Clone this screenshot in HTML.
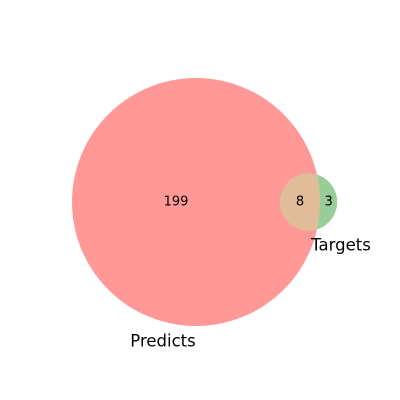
<!DOCTYPE html>
<html><head><meta charset="utf-8"><style>
html,body{margin:0;padding:0;background:#fff;}
svg{display:block;font-family:"DejaVu Sans","Liberation Sans",sans-serif;}
</style></head><body>
<svg id="chart" width="400" height="400" viewBox="0 0 400 400">
<defs><clipPath id="clipBig"><circle id="clipc" cx="0" cy="0" r="0"/></clipPath></defs>
<rect width="400" height="400" fill="#fff"/>
</svg>
<script>
const setNames = ["Predicts", "Targets"];
const regionValues = [199, 8, 3]; // only-A, both, only-B
const NS = "http://www.w3.org/2000/svg";
const svg = document.getElementById("chart");
const areaA = regionValues[0] + regionValues[1];
const areaB = regionValues[2] + regionValues[1];
const k = 124 / Math.sqrt(areaA);
const rA = k * Math.sqrt(areaA), rB = k * Math.sqrt(areaB);
function overlap(d, r1, r2) {
  if (d >= r1 + r2) return 0;
  if (d <= Math.abs(r1 - r2)) return Math.PI * Math.min(r1, r2) ** 2;
  const a = r1*r1*Math.acos((d*d + r1*r1 - r2*r2)/(2*d*r1));
  const b = r2*r2*Math.acos((d*d + r2*r2 - r1*r1)/(2*d*r2));
  const c = 0.5*Math.sqrt((-d+r1+r2)*(d+r1-r2)*(d-r1+r2)*(d+r1+r2));
  return a + b - c;
}
const target = regionValues[1] * Math.PI * k * k;
let lo = Math.abs(rA - rB), hi = rA + rB;
for (let i = 0; i < 60; i++) { const m = (lo + hi) / 2; if (overlap(m, rA, rB) > target) lo = m; else hi = m; }
const d = (lo + hi) / 2;
const cy = 202, cxA = 196, cxB = cxA + d;
function circ(cx, r, fill, name) {
  const c = document.createElementNS(NS, "circle");
  c.setAttribute("cx", cx); c.setAttribute("cy", cy); c.setAttribute("r", r); c.setAttribute("fill", fill);
  
  
  svg.appendChild(c); return c;
}
circ(cxA, rA, "#ff9896", "circle-predicts");
circ(cxB, rB, "#98cc98", "circle-targets");
const cc = document.getElementById("clipc");
cc.setAttribute("cx", cxA); cc.setAttribute("cy", cy); cc.setAttribute("r", rA);
const ov = circ(cxB, rB, "#e0bd98", "overlap-region");
ov.setAttribute("clip-path", "url(#clipBig)");
function txt(x, y, s, size, name) {
  const t = document.createElementNS(NS, "text");
  t.setAttribute("x", x); t.setAttribute("y", y); t.setAttribute("font-size", size);
  t.setAttribute("text-anchor", "middle"); t.setAttribute("dominant-baseline", "central"); t.setAttribute("fill", "#000");
  t.textContent = s;
  
  
  svg.appendChild(t);
}
const leftEdgeB = cxB - rB, rightEdgeA = cxA + rA;
txt((cxA - rA + leftEdgeB) / 2, cy, regionValues[0], 13, "label-only-predicts");
txt((leftEdgeB + rightEdgeA) / 2, cy, regionValues[1], 13, "label-overlap");
txt((rightEdgeA + cxB + rB) / 2, cy, regionValues[2], 13, "label-only-targets");
txt(163, 341, setNames[0], 16.5, "set-label-predicts");
txt(341, 245, setNames[1], 16.5, "set-label-targets");
</script>
</body></html>
